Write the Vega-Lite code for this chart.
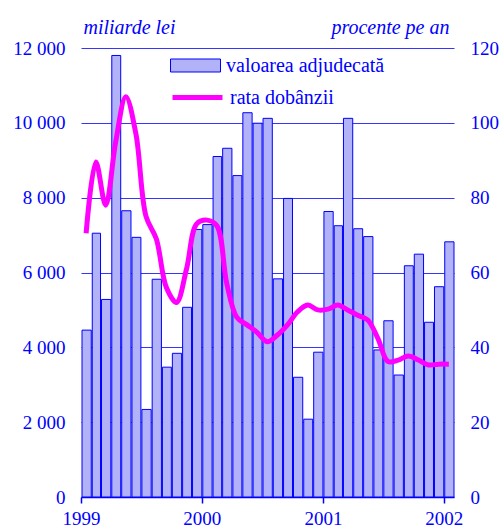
{
  "$schema": "https://vega.github.io/schema/vega-lite/v6.json",
  "width": 373,
  "height": 449,
  "autosize": {"type": "none"},
  "padding": {"left": 81, "top": 48, "right": 48, "bottom": 33},
  "background": "white",
  "title": {"text": "(şi discont)", "font": "Liberation Serif", "fontSize": 20, "fontWeight": "bold", "color": "#0000ff", "anchor": "middle", "frame": "group", "baseline": "alphabetic", "offset": 12, "dx": -7},
  "config": {"view": {"stroke": null}, "font": "Liberation Serif"},
  "data": {"values": [
    {"luna": "1999-01-01", "valoare": 4460, "rata": 70.5},
    {"luna": "1999-02-01", "valoare": 7050, "rata": 89.5},
    {"luna": "1999-03-01", "valoare": 5280, "rata": 78},
    {"luna": "1999-04-01", "valoare": 11800, "rata": 95},
    {"luna": "1999-05-01", "valoare": 7650, "rata": 107},
    {"luna": "1999-06-01", "valoare": 6940, "rata": 97},
    {"luna": "1999-07-01", "valoare": 2340, "rata": 75},
    {"luna": "1999-08-01", "valoare": 5820, "rata": 69},
    {"luna": "1999-09-01", "valoare": 3470, "rata": 56},
    {"luna": "1999-10-01", "valoare": 3840, "rata": 52},
    {"luna": "1999-11-01", "valoare": 5070, "rata": 61},
    {"luna": "1999-12-01", "valoare": 7150, "rata": 73},
    {"luna": "2000-01-01", "valoare": 7280, "rata": 74},
    {"luna": "2000-02-01", "valoare": 9100, "rata": 72.5},
    {"luna": "2000-03-01", "valoare": 9320, "rata": 57},
    {"luna": "2000-04-01", "valoare": 8590, "rata": 48},
    {"luna": "2000-05-01", "valoare": 10270, "rata": 46},
    {"luna": "2000-06-01", "valoare": 9990, "rata": 44},
    {"luna": "2000-07-01", "valoare": 10120, "rata": 41.5},
    {"luna": "2000-08-01", "valoare": 5830, "rata": 43.3},
    {"luna": "2000-09-01", "valoare": 7980, "rata": 46},
    {"luna": "2000-10-01", "valoare": 3200, "rata": 49.5},
    {"luna": "2000-11-01", "valoare": 2080, "rata": 51.3},
    {"luna": "2000-12-01", "valoare": 3870, "rata": 50},
    {"luna": "2001-01-01", "valoare": 7630, "rata": 50.2},
    {"luna": "2001-02-01", "valoare": 7250, "rata": 51.3},
    {"luna": "2001-03-01", "valoare": 10120, "rata": 50},
    {"luna": "2001-04-01", "valoare": 7170, "rata": 48.6},
    {"luna": "2001-05-01", "valoare": 6960, "rata": 47.3},
    {"luna": "2001-06-01", "valoare": 3930, "rata": 42.4},
    {"luna": "2001-07-01", "valoare": 4710, "rata": 36.2},
    {"luna": "2001-08-01", "valoare": 3260, "rata": 36.6},
    {"luna": "2001-09-01", "valoare": 6180, "rata": 37.7},
    {"luna": "2001-10-01", "valoare": 6490, "rata": 36.6},
    {"luna": "2001-11-01", "valoare": 4670, "rata": 35.3},
    {"luna": "2001-12-01", "valoare": 5620, "rata": 35.5},
    {"luna": "2002-01-01", "valoare": 6820, "rata": 35.5}
  ]},
  "layer": [
    {
      "mark": {"type": "bar", "stroke": "#0000ff", "strokeWidth": 1},
      "encoding": {
        "x": {
          "field": "luna", "type": "temporal", "timeUnit": "utcyearmonth",
          "scale": {"domain": [{"year": 1999, "month": 1, "date": 1, "utc": true}, {"year": 2002, "month": 2, "date": 1, "utc": true}]},
          "axis": {
            "title": null, "format": "%Y", "grid": false,
            "values": [{"year": 1999, "month": 1, "date": 1, "utc": true}, {"year": 2000, "month": 1, "date": 1, "utc": true}, {"year": 2001, "month": 1, "date": 1, "utc": true}, {"year": 2002, "month": 1, "date": 1, "utc": true}],
            "domainColor": "#0000ff", "domainWidth": 1.5, "tickColor": "#0000ff", "tickSize": 6, "tickWidth": 1.5,
            "labelColor": "#0000ff", "labelFont": "Liberation Serif", "labelFontSize": 19, "labelPadding": 6, "labelFlush": false
          }
        },
        "y": {
          "field": "valoare", "type": "quantitative",
          "scale": {"domain": [0, 12000]},
          "axis": {
            "values": [0, 2000, 4000, 6000, 8000, 10000, 12000],
            "labelExpr": "replace(format(datum.value, ','), ',', ' ')",
            "domain": false, "ticks": false, "grid": true, "gridColor": "#3535ff", "gridWidth": 1.2, "gridOpacity": 1,
            "labelColor": "#0000ff", "labelFont": "Liberation Serif", "labelFontSize": 19, "labelPadding": 16,
            "title": "miliarde lei", "titleAngle": 0, "titleAlign": "left", "titleBaseline": "alphabetic",
            "titleX": 2, "titleY": -15, "titleFont": "Liberation Serif", "titleFontStyle": "italic", "titleFontWeight": "normal", "titleFontSize": 20, "titleColor": "#0000ff"
          }
        },
        "fill": {
          "datum": "valoarea adjudecată", "type": "nominal",
          "scale": {"domain": ["valoarea adjudecată"], "range": ["#b2b2f8"]},
          "legend": {
            "title": null, "orient": "none", "legendX": 104, "legendY": 7, "padding": 0,
            "symbolSize": 400, "symbolType": "M-2.5,-0.65H2.5V0.65H-2.5Z",
            "symbolStrokeColor": "#0000ff", "symbolStrokeWidth": 1, "symbolOpacity": 1,
            "labelOffset": 20, "labelLimit": 300,
            "labelFont": "Liberation Serif", "labelFontSize": 20, "labelColor": "#0000ff"
          }
        }
      }
    },
    {
      "mark": {"type": "line", "strokeWidth": 5, "interpolate": "catmull-rom"},
      "encoding": {
        "x": {"field": "luna", "type": "temporal", "timeUnit": "utcyearmonth", "bandPosition": 0.5},
        "y": {
          "field": "rata", "type": "quantitative",
          "scale": {"domain": [0, 120]},
          "axis": {
            "orient": "right", "values": [0, 20, 40, 60, 80, 100, 120],
            "domain": false, "ticks": false, "grid": false,
            "labelColor": "#0000ff", "labelFont": "Liberation Serif", "labelFontSize": 19, "labelPadding": 16,
            "title": "procente pe an", "titleAngle": 0, "titleAlign": "right", "titleBaseline": "alphabetic",
            "titleX": -5, "titleY": -15, "titleFont": "Liberation Serif", "titleFontStyle": "italic", "titleFontWeight": "normal", "titleFontSize": 20, "titleColor": "#0000ff"
          }
        },
        "stroke": {
          "datum": "rata dobânzii", "type": "nominal",
          "scale": {"domain": ["rata dobânzii"], "range": ["#ff00ff"]},
          "legend": {
            "title": null, "orient": "none", "legendX": 104, "legendY": 37, "padding": 0,
            "symbolSize": 400, "symbolType": "M-2.5,0H2.5",
            "symbolStrokeWidth": 5, "symbolOpacity": 1,
            "labelOffset": 20, "labelLimit": 300,
            "labelFont": "Liberation Serif", "labelFontSize": 20, "labelColor": "#0000ff"
          }
        }
      }
    }
  ],
  "resolve": {"scale": {"y": "independent"}}
}
